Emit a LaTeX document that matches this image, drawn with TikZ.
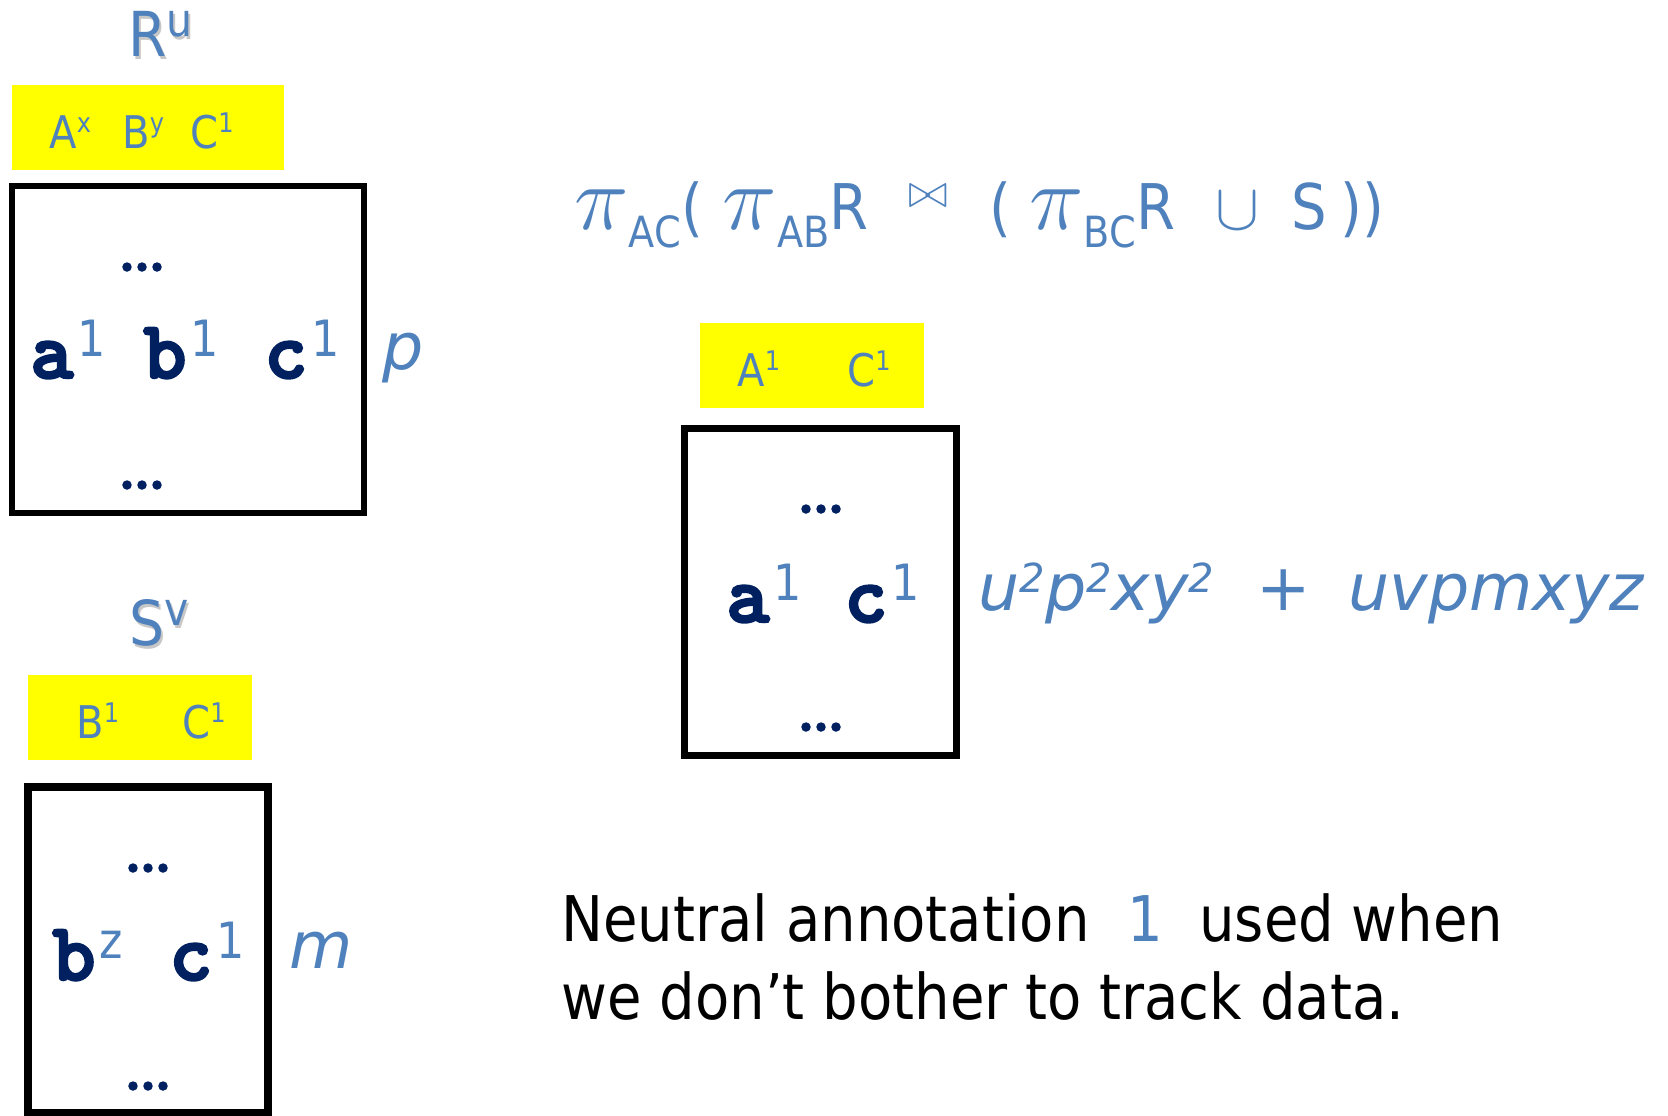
\RequirePackage{fix-cm}
\documentclass[tikz,border=0pt]{standalone}
\usepackage{fontspec}
\usetikzlibrary{positioning}
\newfontfamily\labelfont{DejaVu Sans}[FakeStretch=0.89]
\newfontfamily\weightfont{DejaVu Sans}
\newfontfamily\cellfont{lmmonolt10-bold.otf}[FakeBold=3]
\definecolor{annblue}{HTML}{4F81BD}
\definecolor{cellnavy}{HTML}{002060}
\definecolor{attryellow}{HTML}{FFFF00}

% raised / lowered small text
\newcommand\hi[3]{\raisebox{#1}{\fontsize{#2}{#2}\selectfont #3}}
\newcommand\lo[1]{\raisebox{-9pt}{\fontsize{21.5}{21.5}\selectfont #1}}
\newcommand\ann[1]{\kern2pt\raisebox{11pt}{\labelfont\fontsize{25}{25}\selectfont\color{annblue}#1}}
\newcommand\qpi{{\fontsize{46}{46}\selectfont$\pi$}}
\newcommand\skipped{{\fontsize{28}{28}\selectfont.\kern-7.2pt.\kern-7.2pt.}}

\begin{document}
\begin{tikzpicture}[x=0.5pt,y=-0.5pt,
  every node/.style={inner sep=0pt},
  relname/.style={anchor=base west,text=annblue,font=\labelfont\fontsize{31}{31}\selectfont},
  nameshade/.style={relname,text=black!22},
  attr/.style={anchor=base west,text=annblue,font=\labelfont\fontsize{22.5}{22.5}\selectfont},
  cell/.style={anchor=base west,text=cellnavy,font=\cellfont\fontsize{41}{41}\selectfont},
  more/.style={cell,anchor=center},
  weight/.style={anchor=base west,text=annblue,font=\weightfont\itshape\fontsize{32.5}{32.5}\selectfont},
  expr/.style={anchor=base west,text=annblue,font=\labelfont\fontsize{31.5}{31.5}\selectfont},
  note/.style={anchor=base west,font=\labelfont\fontsize{31.5}{39}\selectfont}]
\useasboundingbox (0,0) rectangle (1668,1115);

% relation R
\node[nameshade] (rshade) at (130,59) {R\hi{10pt}{23}{u}};
\node[relname] (rname) at (128,56) {R\hi{10pt}{23}{u}};
\fill[attryellow] (12,85) rectangle (284,170);
\node[attr] (ra) at (49,148) {A\hi{8pt}{13.5}{x}};
\node[attr] (rb) at (122,148) {B\hi{8pt}{13.5}{y}};
\node[attr] (rc) at (190,148) {C\hi{8pt}{13.5}{1}};
\draw[line width=3pt] (12,186) rectangle (364,513);
\node[more] (rtop) at (142,267) {\skipped};
\node[cell] (ra1) at (30,378) {a\ann{1}};
\node[cell] (rb1) at (143,378) {b\ann{1}};
\node[cell] (rc1) at (264,378) {c\ann{1}};
\node[more] (rbot) at (142,485) {\skipped};
\node[weight] (rw) at (382,369) {p};

% relation S
\node[nameshade] (sshade) at (131,648) {S\hi{10pt}{23}{v}};
\node[relname] (sname) at (129,645) {S\hi{10pt}{23}{v}};
\fill[attryellow] (28,675) rectangle (252,760);
\node[attr] (sb) at (76,738) {B\hi{8pt}{13.5}{1}};
\node[attr] (sc) at (182,738) {C\hi{8pt}{13.5}{1}};
\draw[line width=4pt] (28,787) rectangle (268,1113);
\node[more] (stop) at (148,868) {\skipped};
\node[cell] (sb1) at (52,980) {b\ann{z}};
\node[cell] (sc1) at (169,980) {c\ann{1}};
\node[more] (sbot) at (148,1086) {\skipped};
\node[weight] (sw) at (289,968) {m};

% query and its result
\node[expr] (query) at (574,229) {\qpi\lo{AC}(\kern10pt\qpi\lo{AB}R\kern20pt\hi{11pt}{24}{$\bowtie$}\kern21pt(\kern9pt\qpi\lo{BC}R\kern20pt{\fontsize{33}{33}\selectfont$\cup$}\kern16pt S\kern7pt))};
\fill[attryellow] (700,323) rectangle (924,408);
\node[attr] (qa) at (737,386) {A\hi{8pt}{13.5}{1}};
\node[attr] (qc) at (847,386) {C\hi{8pt}{13.5}{1}};
\draw[line width=3.5pt] (684,428) rectangle (956,755);
\node[more] (qtop) at (821,509) {\skipped};
\node[cell] (qa1) at (726,622) {a\ann{1}};
\node[cell] (qc1) at (844,622) {c\ann{1}};
\node[more] (qbot) at (821,727) {\skipped};
\node[weight] (qw) at (978,610) {u\hi{9pt}{20}{2}p\hi{9pt}{20}{2}xy\hi{9pt}{20}{2}\hspace{21pt}+\hspace{19pt}uvpmxyz};

% remark
\node[note] (note1) at (561,941) {Neutral annotation\hspace{19pt}{\color{annblue}1}\hspace{18pt}used when};
\node[note] (note2) at (561,1019) {we don’t bother to track data.};
\end{tikzpicture}
\end{document}
